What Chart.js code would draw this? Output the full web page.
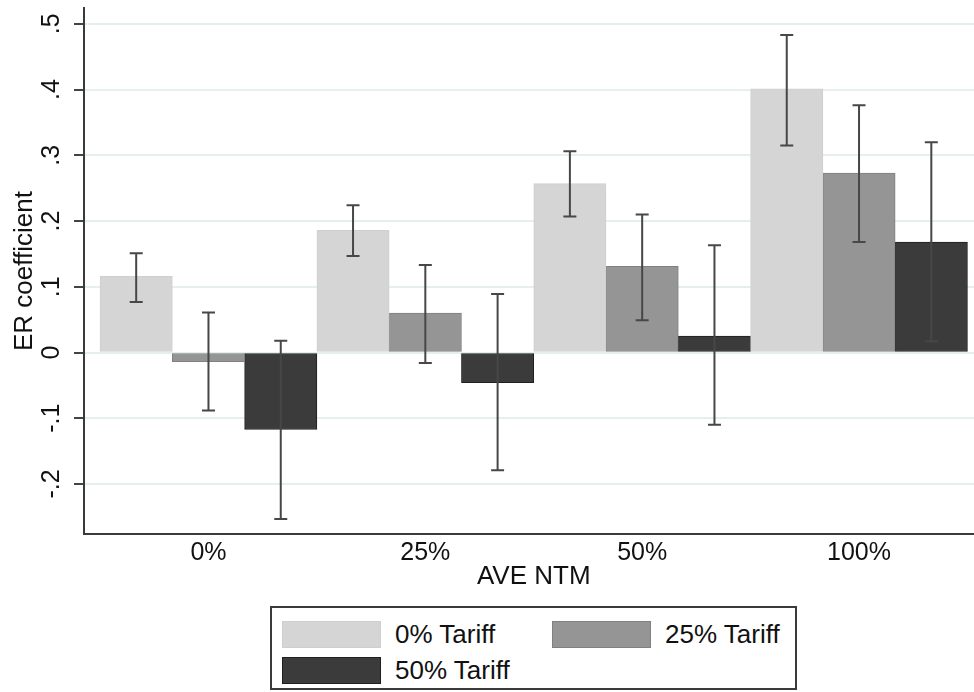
<!DOCTYPE html>
<html>
<head>
<meta charset="utf-8">
<script src="https://cdn.jsdelivr.net/npm/chart.js@4/dist/chart.umd.min.js"></script>
<style>
  html, body { margin: 0; padding: 0; background: #ffffff; overflow: hidden; width: 974px; height: 692px; }
  #wrap { position: absolute; left: 0; top: 0; width: 990px; height: 600px; }
  #legend { position: absolute; left: 270px; top: 606px; width: 523px; height: 80px; border: 2px solid #3a3a3a; background: #fff;
            font-family: "Liberation Sans", Arial, sans-serif; font-size: 26px; color: #111; }
  .item { position: absolute; display: flex; align-items: center; }
  .sw { width: 99px; height: 27px; box-sizing: border-box; }
  .lab { margin-left: 14px; position: relative; top: 0px; white-space: nowrap; }
</style>
</head>
<body>
<div id="wrap"><canvas id="c" width="990" height="600"></canvas></div>
<div id="legend"></div>
<script>
// ---- data ----
const categories = ["0%", "25%", "50%", "100%"];
const seriesNames = ["0% Tariff", "25% Tariff", "50% Tariff"];
const tariff0  = [0.116, 0.186, 0.257, 0.401];
const tariff25 = [-0.014, 0.060, 0.131, 0.273];
const tariff50 = [-0.117, -0.046, 0.025, 0.168];
const tariff0Low  = [0.077, 0.147, 0.207, 0.315];
const tariff0High = [0.151, 0.224, 0.306, 0.483];
const tariff25Low  = [-0.088, -0.016, 0.049, 0.168];
const tariff25High = [0.061, 0.133, 0.210, 0.376];
const tariff50Low  = [-0.253, -0.179, -0.110, 0.017];
const tariff50High = [0.018, 0.089, 0.163, 0.320];
const yTickValues = [-0.2, -0.1, 0, 0.1, 0.2, 0.3, 0.4, 0.5];
const yTickLabels = ["-.2", "-.1", "0", ".1", ".2", ".3", ".4", ".5"];
const yTitle = "ER coefficient";
const xTitle = "AVE NTM";

const seriesValues = [tariff0, tariff25, tariff50];
const seriesLow = [tariff0Low, tariff25Low, tariff50Low];
const seriesHigh = [tariff0High, tariff25High, tariff50High];
const fills = ["#d5d5d5", "#959595", "#3b3b3b"];
const borders = ["#cfcfcf", "#808080", "#1f1f1f"];

const FONT = "'Liberation Sans', Arial, sans-serif";

const errorBars = {
  id: "errorBars",
  afterDatasetsDraw(chart) {
    const ctx = chart.ctx;
    const ys = chart.scales.y;
    ctx.save();
    ctx.strokeStyle = "#474747";
    ctx.lineWidth = 2;
    seriesValues.forEach((vals, i) => {
      const meta = chart.getDatasetMeta(i);
      meta.data.forEach((el, j) => {
        const x = el.x;
        const y1 = ys.getPixelForValue(seriesLow[i][j]);
        const y2 = ys.getPixelForValue(seriesHigh[i][j]);
        ctx.beginPath();
        ctx.moveTo(x, y1); ctx.lineTo(x, y2);
        ctx.moveTo(x - 6.5, y1); ctx.lineTo(x + 6.5, y1);
        ctx.moveTo(x - 6.5, y2); ctx.lineTo(x + 6.5, y2);
        ctx.stroke();
      });
    });
    ctx.restore();
  }
};

const chart = new Chart(document.getElementById("c"), {
  type: "bar",
  data: {
    datasets: seriesNames.map((name, i) => ({
      label: name,
      data: seriesValues[i].map((v, j) => ({ x: j, y: v })),
      backgroundColor: fills[i],
      borderColor: borders[i],
      borderWidth: 1,
      borderSkipped: false,
      categoryPercentage: 1,
      barPercentage: 1
    }))
  },
  options: {
    responsive: false,
    animation: false,
    devicePixelRatio: 1,
    layout: { padding: { top: 8, left: 0, right: 6.5, bottom: 0 } },
    plugins: { legend: { display: false }, tooltip: { enabled: false } },
    scales: {
      x: {
        type: "linear",
        min: -0.574,
        max: 3.574,
        offset: false,
        grid: { display: false },
        border: { display: true, color: "#3a3a3a", width: 2 },
        afterBuildTicks: (s) => { s.ticks = categories.map((c, i) => ({ value: i })); },
        afterFit: (s) => { s.height = 66; s.paddingLeft = 0; s.paddingRight = 0; },
        ticks: {
          autoSkip: false,
          maxRotation: 0,
          padding: -4,
          color: "#111",
          font: { family: FONT, size: 25 },
          callback: (v) => categories[v]
        },
        title: {
          display: true,
          text: xTitle,
          color: "#111",
          font: { family: FONT, size: 26, lineHeight: 1.2 },
          padding: { top: 0, bottom: 8 }
        }
      },
      y: {
        type: "linear",
        min: -0.276,
        max: 0.524,
        afterBuildTicks: (s) => { s.ticks = yTickValues.map(v => ({ value: v })); },
        afterFit: (s) => { s.width = 84; s.paddingTop = 0; s.paddingBottom = 0; },
        grid: {
          color: "#e6eff0",
          lineWidth: 2,
          drawTicks: true,
          tickLength: 10,
          tickColor: "#444",
          tickWidth: 2
        },
        border: { display: true, color: "#3a3a3a", width: 2 },
        ticks: {
          minRotation: 90,
          maxRotation: 90,
          crossAlign: "center",
          padding: 7,
          color: "#111",
          font: { family: FONT, size: 25 },
          callback: (v) => {
            const k = yTickValues.findIndex(t => Math.abs(t - v) < 1e-9);
            return k >= 0 ? yTickLabels[k] : "";
          }
        },
        title: {
          display: true,
          text: yTitle,
          color: "#111",
          font: { family: FONT, size: 26, lineHeight: 1.2 },
          padding: { top: 9, bottom: 0 }
        }
      }
    }
  },
  plugins: [errorBars]
});

// HTML legend built from the chart's own legend items
const legendEl = document.getElementById("legend");
const items = chart.options.plugins.legend.labels.generateLabels(chart);
const pos = [[10, 11], [280, 11], [10, 47]];
items.forEach((it, k) => {
  const d = document.createElement("div");
  d.className = "item";
  d.style.left = pos[k][0] + "px";
  d.style.top = pos[k][1] + "px";
  const sw = document.createElement("div");
  sw.className = "sw";
  sw.style.background = it.fillStyle;
  sw.style.border = "1px solid " + it.strokeStyle;
  const lab = document.createElement("span");
  lab.className = "lab";
  lab.textContent = it.text;
  d.appendChild(sw); d.appendChild(lab);
  legendEl.appendChild(d);
});
</script>
</body>
</html>
